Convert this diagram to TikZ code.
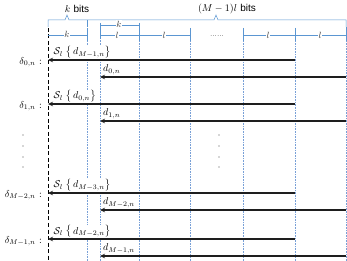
\documentclass[tikz,border=0pt]{standalone}
\usepackage{amsmath,amssymb,xcolor}
\usepackage{fontspec}
\setsansfont{Liberation Sans}
\definecolor{dimblue}{RGB}{91,150,210}
\definecolor{colblue}{RGB}{120,160,215}
\definecolor{arrgray}{RGB}{30,30,30}
\usetikzlibrary{arrows.meta,positioning,calc}

\begin{document}
\begin{tikzpicture}[
  x=1pt,y=-1pt,
  dimline/.style={draw=dimblue,line width=0.5pt},
  colline/.style={draw=colblue,densely dotted,line width=0.6pt},
  dimtxt/.style={fill=white,inner sep=0.5pt,font=\small,text=black!75},
  lblbox/.style={fill=white,inner sep=1pt},
  arr/.style={draw=arrgray,line width=1.2pt,-{Stealth[length=5pt,width=4.5pt]}}
]
  \useasboundingbox (0,0) rectangle (347,261);
  % column positions
  \foreach \n/\x in {0/48,1/87,2/100,3/139,4/190,5/243,6/295,7/346}
    \coordinate (c\n) at (\x,0);
  % header braces
  \draw[dimline] ($(c0)+(0,27)$) -- ($(c0)+(0,20)$) -- (65,20) -- (67,15) -- (69,20)
    -- (214,20) -- (216,15) -- (218,20) -- ($(c7)+(0,20)$) -- ($(c7)+(0,27)$);
  \draw[dimline] ($(c1)+(0,20)$) -- ($(c1)+(0,27)$);
  \node (kbits) at (77,9) {$k$ \textsf{bits}};
  \node (mbits) at (227,9) {$(M-1)l$ \textsf{bits}};
  % column lines
  \draw[line width=1pt,dash pattern=on 4pt off 2.5pt] ($(c0)+(0,28)$) -- ($(c0)+(0,261)$);
  \foreach \n in {1,...,7}
    \draw[colline] ($(c\n)+(0,30)$) -- ($(c\n)+(0,261)$);
  % dimension row
  \draw[dimline] ($(c0)+(0,35)$) -- ($(c1)+(0,35)$);
  \draw[dimline] ($(c2)+(0,35)$) -- ($(c4)+(0,35)$);
  \draw[dimline] ($(c5)+(0,35)$) -- ($(c7)+(0,35)$);
  \draw[dimline] ($(c2)+(0,25)$) -- ($(c3)+(0,25)$);
  \foreach \n/\a/\b in {1/28/41,2/23/39,3/23/41,4/28/41,5/28/41,6/28/41,7/27/41}
    \draw[dimline] ($(c\n)+(0,\a)$) -- ($(c\n)+(0,\b)$);
  \node[dimtxt] (dk0) at (67,34.5) {$k$};
  \node[dimtxt] (dk1) at (119,24) {$k$};
  \node[dimtxt] (dl1) at (117,35) {$l$};
  \node[dimtxt] (dl2) at (164,35) {$l$};
  \node[dimtxt,font=\scriptsize,text=black] (ddots) at (217,36) {......};
  \node[dimtxt] (dl3) at (268,35) {$l$};
  \node[dimtxt] (dl4) at (320,35) {$l$};
  % rows of shifts
  \foreach \i/\y/\dl/\sl/\dd in {0/60/{0,n}/{M-1,n}/{0,n},1/104/{1,n}/{0,n}/{1,n},
      2/193/{M-2,n}/{M-3,n}/{M-2,n},3/239/{M-1,n}/{M-2,n}/{M-1,n}} {
    \coordinate (a\i) at (0,\y);
    \coordinate (b\i) at (0,\y+17);
    \node[lblbox,anchor=east] (delta\i) at (43,\y+2) {$\delta_{\dl}$ :};
    \node[lblbox,inner sep=0.5pt,anchor=base west] (s\i) at (53,\y-5) {$\mathcal{S}_l\;\big\{\,d_{\sl}\big\}$};
    \node[lblbox,anchor=south west] (d\i) at (102,\y+16) {$d_{\dd}$};
    \draw[arr] (c6 |- a\i) -- (c0 |- a\i);
    \draw[arr] (c7 |- b\i) -- (c2 |- b\i);
  }
  % vertical dots
  \foreach \y in {135,146,157,167} {
    \fill[black!70] (23,\y) circle (0.7pt);
    \fill[black!70] (219,\y) circle (0.7pt);
  }
\end{tikzpicture}
\end{document}
